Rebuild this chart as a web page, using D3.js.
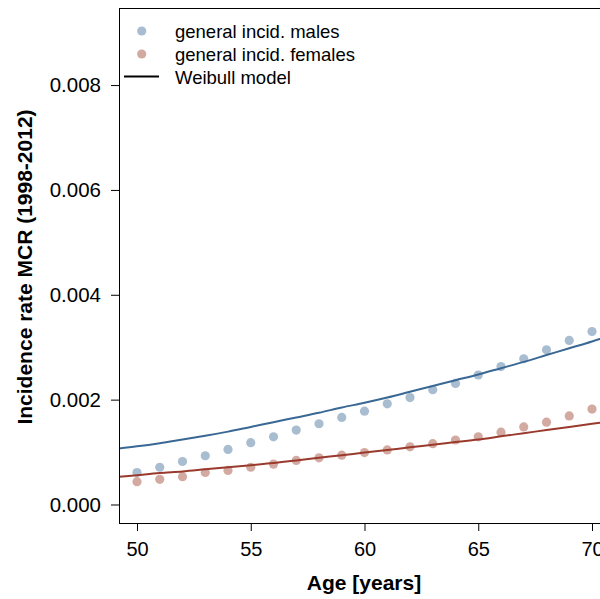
<!DOCTYPE html>
<html>
<head>
<meta charset="utf-8">
<script src="https://cdn.jsdelivr.net/npm/d3@7/dist/d3.min.js"></script>
<style>
  html, body { margin: 0; padding: 0; background: #fff; }
  svg { display: block; }
  text { font-family: "Liberation Sans", Arial, sans-serif; fill: #000; }
</style>
</head>
<body>
<div id="chart"></div>
<script>
// Observed incidence by single year of age
const ages = [50, 51, 52, 53, 54, 55, 56, 57, 58, 59, 60, 61, 62, 63, 64, 65, 66, 67, 68, 69, 70];
const malesIncid = [0.00061, 0.00071, 0.00082, 0.00093, 0.00105, 0.00118, 0.00129, 0.00142, 0.00154, 0.00166,
                    0.00178, 0.00192, 0.00204, 0.00219, 0.00231, 0.00247, 0.00263, 0.00278, 0.00295, 0.00313, 0.00330];
const femalesIncid = [0.000435, 0.00048, 0.00053, 0.00061, 0.00065, 0.00071, 0.00077, 0.00084, 0.00089, 0.00094,
                      0.00099, 0.00104, 0.00110, 0.00116, 0.00123, 0.00129, 0.00138, 0.00148, 0.00157, 0.00169, 0.00182];

// Fitted Weibull hazard curves
const modelAges = [49, 50, 51, 52, 53, 54, 55, 56, 57, 58, 59, 60, 61, 62, 63, 64, 65, 66, 67, 68, 69, 70, 71];
const malesModel = [0.00106, 0.00111, 0.00117, 0.00124, 0.00131, 0.00139, 0.00148, 0.00157, 0.00166, 0.00175, 0.00185,
                    0.00194, 0.00204, 0.00215, 0.00226, 0.00237, 0.00248, 0.00260, 0.00272, 0.00285, 0.00298, 0.00311, 0.00325];
const femalesModel = [0.00052, 0.00056, 0.00060, 0.00063, 0.00067, 0.00071, 0.00075, 0.00079, 0.00084, 0.00089, 0.00094,
                      0.00099, 0.00104, 0.00109, 0.00114, 0.00119, 0.00124, 0.00130, 0.00136, 0.00142, 0.00148, 0.00154, 0.00160];

const xTicks = [50, 55, 60, 65, 70];
const yTicks = [0, 0.002, 0.004, 0.006, 0.008];
const legendLabels = ["general incid. males", "general incid. females", "Weibull model"];

const W = 600, H = 599;
const plot = { left: 119, top: 8, right: 610, bottom: 523 };

const colMalePt = "#a9bdd1", colFemalePt = "#d3aaa2";
const colMaleLine = "#3a6894", colFemaleLine = "#9a3a2c";

const svg = d3.select("#chart").append("svg").attr("width", W).attr("height", H);

const x = d3.scaleLinear().domain([49.2, 70.8]).range([plot.left - 0.2, plot.right + 0.2]);
const y = d3.scaleLinear().domain([-0.000353, 0.00947]).range([plot.bottom, plot.top]);

svg.append("defs").append("clipPath").attr("id", "plotclip")
  .append("rect").attr("x", plot.left).attr("y", plot.top)
  .attr("width", plot.right - plot.left).attr("height", plot.bottom - plot.top);

const g = svg.append("g").attr("clip-path", "url(#plotclip)");

// points
const pts = [
  { vals: malesIncid, col: colMalePt },
  { vals: femalesIncid, col: colFemalePt }
];
pts.forEach(s => {
  g.selectAll(null).data(ages.map((a, i) => [a, s.vals[i]])).enter()
    .append("circle")
    .attr("cx", d => x(d[0])).attr("cy", d => y(d[1]))
    .attr("r", 4.6).attr("fill", s.col);
});

// model lines
const line = d3.line().x(d => x(d[0])).y(d => y(d[1])).curve(d3.curveMonotoneX);
[[malesModel, colMaleLine], [femalesModel, colFemaleLine]].forEach(([vals, col]) => {
  g.append("path")
    .attr("d", line(modelAges.map((a, i) => [a, vals[i]])))
    .attr("fill", "none").attr("stroke", col).attr("stroke-width", 2);
});

// axes
const xAxis = d3.axisBottom(x).tickValues(xTicks).tickSize(8).tickPadding(11).tickFormat(d3.format("d"));
const xg = svg.append("g").attr("transform", `translate(0,${plot.bottom})`).call(xAxis);
xg.select(".domain").remove();
xg.selectAll("line").attr("stroke", "#000");
xg.selectAll("text").attr("font-size", 20).style("font-family", '"Liberation Sans", Arial, sans-serif');

const yAxis = d3.axisLeft(y).tickValues(yTicks).tickSize(8).tickPadding(10).tickFormat(d3.format(".3f"));
const yg = svg.append("g").attr("transform", `translate(${plot.left},0)`).call(yAxis);
yg.select(".domain").remove();
yg.selectAll("line").attr("stroke", "#000");
yg.selectAll("text").attr("font-size", 20.5).style("font-family", '"Liberation Sans", Arial, sans-serif');

// plot frame
svg.append("rect")
  .attr("x", plot.left + 0.5).attr("y", plot.top + 0.5)
  .attr("width", plot.right - plot.left).attr("height", plot.bottom - plot.top)
  .attr("fill", "none").attr("stroke", "#000").attr("stroke-width", 1);

// axis titles
svg.append("text")
  .attr("x", 364).attr("y", 590)
  .attr("text-anchor", "middle").attr("font-size", 21).attr("font-weight", "bold")
  .text("Age [years]");

svg.append("text")
  .attr("transform", "translate(32,267) rotate(-90)")
  .attr("text-anchor", "middle").attr("font-size", 21).attr("font-weight", "bold")
  .text("Incidence rate MCR (1998-2012)");

// legend
const leg = svg.append("g");
const legY = [37.5, 60.5, 83.5];
leg.append("circle").attr("cx", 141.7).attr("cy", legY[0] - 6.5).attr("r", 4.6).attr("fill", colMalePt);
leg.append("circle").attr("cx", 141.7).attr("cy", legY[1] - 6.5).attr("r", 4.6).attr("fill", colFemalePt);
leg.append("line").attr("x1", 124).attr("x2", 159).attr("y1", legY[2] - 7).attr("y2", legY[2] - 7)
  .attr("stroke", "#000").attr("stroke-width", 2);
legendLabels.forEach((t, i) => {
  leg.append("text").attr("x", 175).attr("y", legY[i]).attr("font-size", 18.5).text(t);
});
</script>
</body>
</html>
